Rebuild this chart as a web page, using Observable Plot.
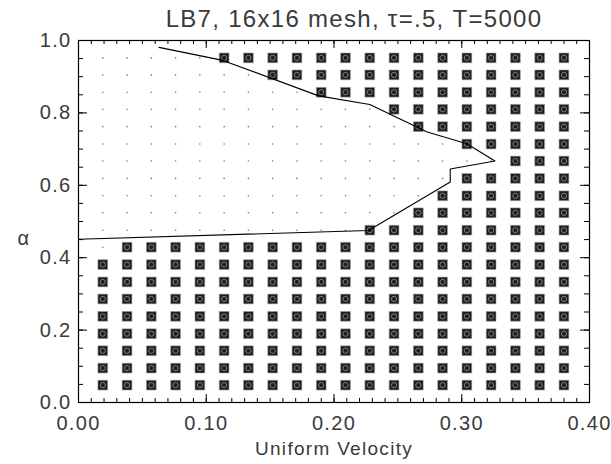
<!DOCTYPE html>
<html>
<head>
<meta charset="utf-8">
<script src="https://cdn.jsdelivr.net/npm/d3@7"></script>
<script src="https://cdn.jsdelivr.net/npm/@observablehq/plot@0.6"></script>
<style>
  html, body { margin: 0; padding: 0; background: white; }
</style>
</head>
<body>
<div id="chart"></div>
<script>
// Grid of simulated (velocity, alpha) points
const velocityGrid = [0.019, 0.038, 0.057, 0.076, 0.095, 0.114, 0.133, 0.152, 0.171, 0.190,
                      0.209, 0.228, 0.247, 0.266, 0.285, 0.304, 0.323, 0.342, 0.361, 0.380];
const alphaGrid = [0.048, 0.095, 0.143, 0.190, 0.238, 0.286, 0.333, 0.381, 0.429, 0.476,
                   0.524, 0.571, 0.619, 0.667, 0.714, 0.762, 0.810, 0.857, 0.905, 0.952];
// For each alpha row: smallest grid velocity that is unstable (square)
const onsetVelocity = [0.019, 0.019, 0.019, 0.019, 0.019, 0.019, 0.019, 0.019, 0.038, 0.228,
                       0.266, 0.285, 0.304, 0.342, 0.304, 0.266, 0.247, 0.190, 0.152, 0.114];
// Stability boundary curve
const boundaryVelocity = [0.063, 0.113, 0.188, 0.228, 0.273, 0.304, 0.326, 0.291, 0.291, 0.227, 0.000];
const boundaryAlpha    = [0.981, 0.945, 0.847, 0.823, 0.747, 0.715, 0.667, 0.645, 0.609, 0.475, 0.451];
// Axis ticks
const xTickLabels = [0.0, 0.1, 0.2, 0.3, 0.4];
const yTickLabels = [0.0, 0.2, 0.4, 0.6, 0.8, 1.0];
const titleText = "LB7, 16x16 mesh, \u03c4=.5, T=5000";
const xTitle = "Uniform Velocity";
const yTitle = "\u03b1";

const W = 611, H = 464;
const mL = 78, mR = 22, mT = 40, mB = 62;
const plotW = W - mL - mR, plotH = H - mT - mB;

const cells = [];
alphaGrid.forEach((a, j) => {
  velocityGrid.forEach(v => {
    cells.push({velocity: v, alpha: a, unstable: v >= onsetVelocity[j] - 1e-9});
  });
});
const unstable = cells.filter(d => d.unstable);
const stable = cells.filter(d => !d.unstable);
const boundary = boundaryVelocity.map((v, i) => ({velocity: v, alpha: boundaryAlpha[i]}));

const xMinor = d3.ticks(0, 0.4, 40);
const yMinor = d3.ticks(0, 1, 20);

const chart = Plot.plot({
  width: W, height: H,
  marginLeft: mL, marginRight: mR, marginTop: mT, marginBottom: mB,
  x: {domain: [0, 0.4]},
  y: {domain: [0, 1]},
  style: {fontFamily: "'Liberation Sans', Arial, sans-serif", fontSize: "20px", color: "#3a3a3a", background: "white", letterSpacing: "1.3px"},
  marks: [
    // stable points
    Plot.dot(stable, {x: "velocity", y: "alpha", r: 0.8, fill: "#777", stroke: null}),
    // unstable points
    Plot.dot(unstable, {x: "velocity", y: "alpha", symbol: "square", r: 5.5, fill: "#1e1e1e", stroke: "#9a9a9a", strokeWidth: 0.6}),
    Plot.dot(unstable, {x: "velocity", y: "alpha", r: 2.6, fill: "none", stroke: "#8a8a8a", strokeWidth: 0.9}),
    // boundary
    Plot.line(boundary, {x: "velocity", y: "alpha", stroke: "black", strokeWidth: 1.1}),
    // ticks (inward, all four sides)
    Plot.tickX(xMinor, {x: d => d, insetTop: plotH - 4, stroke: "black"}),
    Plot.tickX(xMinor, {x: d => d, insetBottom: plotH - 4, stroke: "black"}),
    Plot.tickX(xTickLabels, {x: d => d, insetTop: plotH - 8, stroke: "black"}),
    Plot.tickX(xTickLabels, {x: d => d, insetBottom: plotH - 8, stroke: "black"}),
    Plot.tickY(yMinor, {y: d => d, insetRight: plotW - 5, stroke: "black"}),
    Plot.tickY(yMinor, {y: d => d, insetLeft: plotW - 5, stroke: "black"}),
    Plot.tickY(yTickLabels, {y: d => d, insetRight: plotW - 9, stroke: "black"}),
    Plot.tickY(yTickLabels, {y: d => d, insetLeft: plotW - 9, stroke: "black"}),
    Plot.frame({stroke: "black", strokeWidth: 1.2}),
    // tick labels
    Plot.axisX(xTickLabels, {anchor: "bottom", tickSize: 0, tickPadding: 13, tickFormat: d3.format(".2f"), label: null}),
    Plot.axisY(yTickLabels, {anchor: "left", tickSize: 0, tickPadding: 7, tickFormat: d3.format(".1f"), label: null}),
    // titles
    Plot.text([titleText], {frameAnchor: "top", lineAnchor: "middle", dy: -21, dx: 20, fontSize: 24, letterSpacing: "2.5px", fill: "#3a3a3a"}),
    Plot.text([xTitle], {frameAnchor: "bottom", lineAnchor: "middle", dy: 46, fontSize: 19, letterSpacing: "1.4px", fill: "#3a3a3a"}),
    Plot.text([yTitle], {frameAnchor: "left", lineAnchor: "middle", dx: -61, dy: 17, fontSize: 20, fill: "#3a3a3a"})
  ]
});
document.getElementById("chart").appendChild(chart);
</script>
</body>
</html>
